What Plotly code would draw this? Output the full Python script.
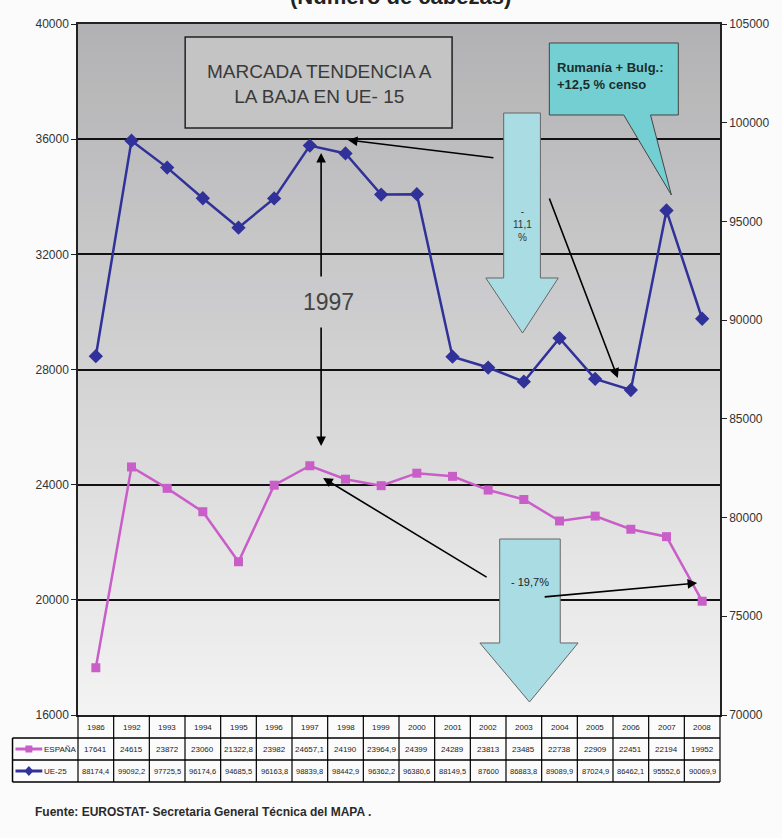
import plotly.graph_objects as go

years = ["1986", "1992", "1993", "1994", "1995", "1996", "1997", "1998", "1999",
         "2000", "2001", "2002", "2003", "2004", "2005", "2006", "2007", "2008"]
espana = [17641, 24615, 23872, 23060, 21322.8, 23982, 24657.1, 24190, 23964.9,
          24399, 24289, 23813, 23485, 22738, 22909, 22451, 22194, 19952]
ue25 = [88174.4, 99092.2, 97725.5, 96174.6, 94685.5, 96163.8, 98839.8, 98442.9, 96362.2,
        96380.6, 88149.5, 87600, 86883.8, 89089.9, 87024.9, 86462.1, 95552.6, 90069.9]
left_ticks = [16000, 20000, 24000, 28000, 32000, 36000, 40000]
right_ticks = [70000, 75000, 80000, 85000, 90000, 95000, 100000, 105000]

FIG_W, FIG_H = 782, 838
L, R, T, B = 78, 725, 24, 715
W, H = R - L, B - T
FONT = "Liberation Sans, Arial, sans-serif"
PINK = "#C95EC9"
BLUE = "#31319A"


def px(x):
    return (x - L) / W


def py(y):
    return (B - y) / H


def fmt(v):
    s = ("%.1f" % v).rstrip("0").rstrip(".")
    return s.replace(".", ",")


def note(x, y, text, size, color="#222", xanchor="center", align="center", bold=False):
    return dict(xref="paper", yref="paper", x=px(x), y=py(y), text=text, showarrow=False,
                xanchor=xanchor, yanchor="middle", align=align,
                font=dict(family=FONT, size=size, color=color,
                          weight="bold" if bold else "normal"))


fig = go.Figure()
fig.add_trace(go.Scatter(x=years, y=espana, name="ESPAÑA", mode="lines+markers",
                         line=dict(color=PINK, width=2.5),
                         marker=dict(symbol="square", size=9, color=PINK)))
fig.add_trace(go.Scatter(x=years, y=ue25, name="UE-25", mode="lines+markers", yaxis="y2",
                         line=dict(color=BLUE, width=2.5),
                         marker=dict(symbol="diamond", size=11, color=BLUE)))

shapes = []
annotations = []

# gradient background of plot area
n = 70
c_top, c_bot = (178, 178, 180), (243, 243, 243)
for i in range(n):
    t = i / (n - 1)
    c = tuple(int(round(c_top[k] + (c_bot[k] - c_top[k]) * t)) for k in range(3))
    shapes.append(dict(type="rect", xref="paper", yref="paper", layer="below",
                       x0=0, x1=1, y0=max(0, 1 - (i + 1) / n - 0.002), y1=1 - i / n,
                       fillcolor="rgb(%d,%d,%d)" % c, line=dict(width=0)))

# table grid
rows_y = [715, 738, 760, 782]
for yy in rows_y[1:]:
    shapes.append(dict(type="line", xref="paper", yref="paper", x0=px(12), x1=px(725),
                       y0=py(yy), y1=py(yy), line=dict(color="black", width=1.5)))
shapes.append(dict(type="line", xref="paper", yref="paper", x0=px(12), x1=px(12),
                   y0=py(738), y1=py(782), line=dict(color="black", width=1.5)))
ncol = len(years)
for k in range(ncol + 1):
    xx = k / ncol
    shapes.append(dict(type="line", xref="paper", yref="paper", x0=xx, x1=xx,
                       y0=py(715), y1=py(782), line=dict(color="black", width=1.2)))
for k, yr in enumerate(years):
    xc = L + (k + 0.5) * W / ncol
    annotations.append(note(xc, 727, yr, 8))
    annotations.append(note(xc, 749, fmt(espana[k]), 8))
    annotations.append(note(xc, 771, fmt(ue25[k]), 7.5))

# legend keys in table
for yy, col, label in [(749, PINK, "ESPAÑA"), (771, BLUE, "UE-25")]:
    shapes.append(dict(type="line", xref="paper", yref="paper", x0=px(15), x1=px(42),
                       y0=py(yy), y1=py(yy), line=dict(color=col, width=3)))
    annotations.append(note(42, yy, label, 8, xanchor="left", align="left"))
shapes.append(dict(type="rect", xref="paper", yref="paper", x0=px(25), x1=px(32),
                   y0=py(752.5), y1=py(745.5), fillcolor=PINK, line=dict(width=0)))
shapes.append(dict(type="path", xref="paper", yref="paper",
                   path="M %f,%f L %f,%f L %f,%f L %f,%f Z" % (
                       px(28.5), py(766), px(33), py(771), px(28.5), py(776), px(24), py(771)),
                   fillcolor=BLUE, line=dict(width=0)))

# title box
shapes.append(dict(type="rect", xref="paper", yref="paper", x0=px(186), x1=px(455),
                   y0=py(128), y1=py(37), fillcolor="#c4c4c4",
                   line=dict(color="#222", width=1.5)))
annotations.append(note(321, 84, "MARCADA TENDENCIA A<br>LA BAJA EN UE- 15", 19, color="#3a3a3a"))

# callout Rumania
callout = "M %f,%f L %f,%f L %f,%f L %f,%f L %f,%f L %f,%f L %f,%f Z" % (
    px(553), py(43), px(683), py(43), px(683), py(115), px(655), py(115),
    px(676), py(195), px(628), py(115), px(553), py(115))
shapes.append(dict(type="path", xref="paper", yref="paper", path=callout,
                   fillcolor="#74CFD3", line=dict(color="#444", width=1)))
annotations.append(note(559, 76, "Rumanía + Bulg.:<br>+12,5 % censo", 13,
                        color="#1c2d2d", xanchor="left", align="left", bold=True))


def down_arrow(bx0, bx1, top, hy, hx0, hx1, tipx, tipy):
    return "M %f,%f L %f,%f L %f,%f L %f,%f L %f,%f L %f,%f L %f,%f Z" % (
        px(bx0), py(top), px(bx1), py(top), px(bx1), py(hy), px(hx1), py(hy),
        px(tipx), py(tipy), px(hx0), py(hy), px(bx0), py(hy))


shapes.append(dict(type="path", xref="paper", yref="paper",
                   path=down_arrow(507, 544, 113, 278, 489, 562, 526, 333),
                   fillcolor="#A9DDE3", line=dict(color="#666", width=1)))
annotations.append(note(526, 224, "-<br>11,1<br>%", 10, color="#333"))

shapes.append(dict(type="path", xref="paper", yref="paper",
                   path=down_arrow(503, 564, 539, 643, 483, 582, 533, 702),
                   fillcolor="#A9DDE3", line=dict(color="#666", width=1)))
annotations.append(note(534, 582, "- 19,7%", 11))

# 1997 label and arrows
annotations.append(note(330, 302, "1997", 23, color="#444"))


def arrow(tail, head):
    return dict(xref="paper", yref="paper", x=px(head[0]), y=py(head[1]),
                ax=tail[0] - head[0], ay=tail[1] - head[1], axref="pixel", ayref="pixel",
                text="", showarrow=True, arrowhead=2, arrowsize=1.2, arrowwidth=1.6,
                arrowcolor="black")


annotations.append(arrow((323, 278), (323, 153)))
annotations.append(arrow((323, 326), (323, 446)))
annotations.append(arrow((497, 158), (350, 140)))
annotations.append(arrow((553, 197), (622, 378)))
annotations.append(arrow((490, 578), (325, 478)))
annotations.append(arrow((548, 597), (702, 583)))

# cut-off heading and source
annotations.append(note(403, -4, "(Número de cabezas)", 22, bold=True))
annotations.append(note(33, 812, "Fuente: EUROSTAT- Secretaria General Técnica del MAPA .",
                        12, color="#2a2a2a", xanchor="left", align="left", bold=True))

fig.update_layout(
    width=FIG_W, height=FIG_H,
    margin=dict(l=L, r=FIG_W - R, t=T, b=FIG_H - B, pad=0),
    paper_bgcolor="#fbfbfb", plot_bgcolor="#d8d8d8",
    showlegend=False,
    shapes=shapes, annotations=annotations,
    xaxis=dict(type="category", range=[-0.5, len(years) - 0.5], showticklabels=False,
               ticks="", showgrid=False, showline=True, mirror=True,
               linecolor="#222", linewidth=1.5, zeroline=False),
    yaxis=dict(range=[16000, 40000], tickvals=left_ticks, tickformat="d", ticks="outside",
               ticklen=5, tickcolor="#222", showline=True, linecolor="#222", linewidth=1.5,
               showgrid=True, gridcolor="#111", gridwidth=1.5, zeroline=False,
               tickfont=dict(family=FONT, size=12, color="#333")),
    yaxis2=dict(range=[70000, 105000], tickvals=right_ticks, tickformat="d", overlaying="y",
                side="right", ticks="outside", ticklen=5, tickcolor="#222", showline=True,
                linecolor="#222", linewidth=1.5, showgrid=False, zeroline=False,
                tickfont=dict(family=FONT, size=12, color="#333")),
)

fig.write_html("out.html", config={"displayModeBar": False},
               post_script="document.body.style.margin='0px';")
